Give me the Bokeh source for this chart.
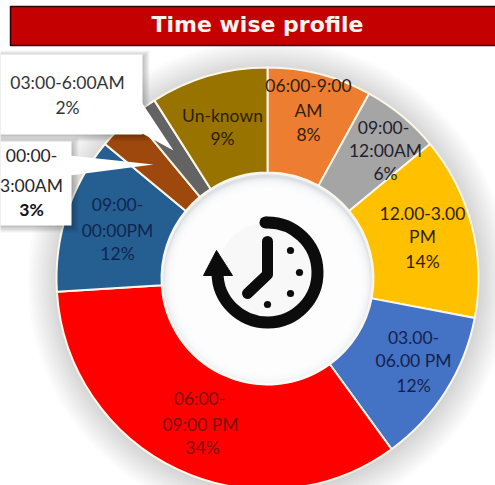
import math
from bokeh.plotting import figure
from bokeh.models import Range1d
from bokeh.core.properties import value
from bokeh.embed import file_html
from bokeh.resources import INLINE

# ---- data ----
title = "Time wise profile"
categories = ["06:00-9:00\nAM", "09:00-\n12:00AM", "12.00-3.00\nPM", "03.00-\n06.00 PM",
              "06:00-\n09:00 PM", "09:00-\n00:00PM", "00:00-\n3:00AM", "03:00-6:00AM", "Un-known"]
percents = [8, 6, 14, 12, 34, 12, 3, 2, 9]
colors = ["#ED7D31", "#A5A5A5", "#FFC000", "#4472C4", "#FF0000", "#255E91", "#9E480E", "#636363", "#997300"]

W, H = 495, 485
def Y(v):
    return H - v

p = figure(width=W, height=H, output_backend="svg", toolbar_location=None,
           x_range=Range1d(0, W), y_range=Range1d(0, H), min_border=0, tools="")
p.axis.visible = False
p.grid.visible = False
p.outline_line_color = None
p.background_fill_color = "white"
p.border_fill_color = "white"
p.styles = {"position": "absolute", "left": "0px", "top": "0px"}

CX, CY, RO, RI = 267, Y(278), 211, 106

# soft glow behind the ring
for i in range(14):
    p.circle([CX + 1], [CY - 2], radius=RO + 30 - i * 2.2, fill_color="#707070", fill_alpha=0.018, line_color=None)

# ring
total = sum(percents)
cum = 0
starts, ends = [], []
for v in percents:
    starts.append(math.pi / 2 - 2 * math.pi * (cum + v) / total)
    ends.append(math.pi / 2 - 2 * math.pi * cum / total)
    cum += v
p.annular_wedge(x=[CX] * len(percents), y=[CY] * len(percents), inner_radius=RI, outer_radius=RO,
                start_angle=starts, end_angle=ends, fill_color=colors,
                line_color="#FBF6E6", line_width=2)

# hole with inner shadow
p.circle([CX], [CY], radius=RI - 1, fill_color="#DDE0E4", line_color="#F4F6F2", line_width=1.5)
for i in range(12):
    p.circle([CX], [CY - 3], radius=RI - 2 - i * 1.5, fill_color="white", fill_alpha=0.32, line_color=None)

# clock icon
INK = "#0C0C0C"
p.circle([CX], [Y(272)], radius=50, fill_color="#F8F8F8", line_color=None)
p.arc([CX], [Y(272)], radius=50, start_angle=math.radians(-180), end_angle=math.radians(92),
      direction="anticlock", line_color=INK, line_width=12)
p.circle([CX - 2], [Y(222)], radius=6, fill_color=INK, line_color=None)
p.patch([203, 216, 232], [Y(275), Y(250), Y(275)], fill_color=INK, line_color=INK, line_width=1)
p.line([267, 267, 247], [Y(241), Y(274), Y(293)], line_color=INK, line_width=11,
       line_cap="round", line_join="round")
p.circle([290, 299, 290, 267], [Y(250), Y(272), Y(293), Y(304)], radius=3.6, fill_color=INK, line_color=None)

# ring labels
FONT = value("Lato")
def label(xs, ys, texts, size="17.5px", color="#2A2430", style="normal"):
    p.text(xs, [Y(v) for v in ys], text=texts, text_align="center", text_baseline="middle",
           text_font=FONT, text_font_size=size, text_color=color, text_font_style=style)

def pct(i):
    return f"{percents[i]}%"

def lines(i):
    return categories[i].split("\n")

label([222, 222], [115, 138], [categories[8], pct(8)], color="#2B2108")
label([308, 308, 308], [85, 110, 134], lines(0) + [pct(0)], color="#33200F")
label([383, 385, 385], [127, 150, 173], lines(1) + [pct(1)], color="#22222C")
label([422, 422, 422], [213, 236, 261], lines(2) + [pct(2)], color="#2E2207")
label([413, 413, 413], [337, 360, 385], lines(3) + [pct(3)], color="#14224F")
label([199, 200, 202], [398, 424, 447], lines(4) + [pct(4)], color="#7A1010")
label([117, 117, 117], [204, 230, 253], lines(5) + [pct(5)], color="#102650")

# callouts
def box(x0, x1, y0, y1):
    for i in range(5):
        d = 7 - i * 1.4
        p.quad(left=[x0 - 5], right=[x1 + d], top=[Y(y0 - d + 3)], bottom=[Y(y1 + d)],
               fill_color="#000000", fill_alpha=0.05, line_color=None)
    p.quad(left=[x0 - 5], right=[x1], top=[Y(y0)], bottom=[Y(y1)], fill_color="white", line_color=None)

box(0, 142, 54, 134)
p.patch([140, 140, 173], [Y(100), Y(132), Y(150)], fill_color="white", line_color=None)
box(0, 71, 141, 225)
p.patch([69, 69, 153], [Y(155), Y(175), Y(164)], fill_color="white", line_color=None)

label([67, 67], [82, 107], [categories[7], pct(7)], color="#33343A")
a, b = lines(6)
label([31, 31], [155, 185], [a, b], color="#26262C")
label([31], [209], [pct(6)], color="#111118", style="bold")

# title bar
p.quad(left=[10], right=[W + 3], top=[Y(6)], bottom=[Y(45)], fill_color="#C40000",
       line_color="#2A0505", line_width=1.5)
p.text([257], [Y(24)], text=[title], text_align="center", text_baseline="middle",
       text_font=value("DejaVu Sans"), text_font_style="bold", text_font_size="22px", text_color="#FBF3EE")

open("out.html", "w").write(file_html(p, INLINE))
